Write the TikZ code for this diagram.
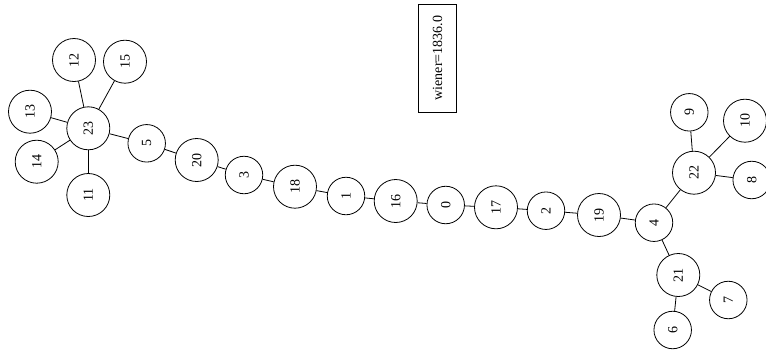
\documentclass[tikz,border=0pt]{standalone}
\usepackage{fontspec}
\setmainfont{Liberation Serif}
\usetikzlibrary{positioning}

\newcommand{\nodefont}{\fontsize{14pt}{17pt}\selectfont}
\tikzset{
  vtx/.style={draw,circle,line width=0.8pt,minimum size=37.5pt,inner sep=0pt,rotate=90,font=\nodefont},
  vtxw/.style={vtx,minimum size=43pt},
  info/.style={draw,rectangle,line width=0.8pt,minimum width=108pt,minimum height=38pt,inner sep=0pt,rotate=90,font=\nodefont}
}

\begin{document}
\begin{tikzpicture}[x=1pt,y=-1pt]
\useasboundingbox (0,0) rectangle (766,354);
% draw label box
\node[info] (wiener) at (437.5,58) {wiener=1836.0};
% draw left star
\node[vtxw] (n23) at (88.3,128.3) {23};
\node[vtxw] (n12) at (74,60) {12};
\node[vtxw] (n15) at (125,61.7) {15};
\node[vtxw] (n13) at (30,111.7) {13};
\node[vtxw] (n14) at (36.7,161.7) {14};
\node[vtxw] (n11) at (88.3,195) {11};
% draw path
\node[vtx] (n5) at (146.7,143.3) {5};
\node[vtxw] (n20) at (196.7,160) {20};
\node[vtx] (n3) at (244,175) {3};
\node[vtxw] (n18) at (295,186.7) {18};
\node[vtx] (n1) at (346,196) {1};
\node[vtxw] (n16) at (395.7,201) {16};
\node[vtx] (n0) at (445.7,205) {0};
\node[vtxw] (n17) at (496,207.3) {17};
\node[vtx] (n2) at (546,210.7) {2};
\node[vtxw] (n19) at (599,215) {19};
\node[vtx] (n4) at (654,222.7) {4};
% draw right stars
\node[vtxw] (n22) at (694,172.7) {22};
\node[vtx] (n9) at (689.3,112.3) {9};
\node[vtxw] (n10) at (745,120.7) {10};
\node[vtx] (n8) at (751.7,180) {8};
\node[vtxw] (n21) at (678.3,275) {21};
\node[vtx] (n7) at (728.3,300) {7};
\node[vtx] (n6) at (672.7,330) {6};
% draw edges
\foreach \a/\b in {23/12,23/15,23/13,23/14,23/11,23/5,5/20,20/3,3/18,18/1,1/16,16/0,0/17,17/2,2/19,19/4,4/22,22/9,22/10,22/8,4/21,21/7,21/6}
\draw[line width=0.8pt] (n\a) -- (n\b);
\end{tikzpicture}
\end{document}
